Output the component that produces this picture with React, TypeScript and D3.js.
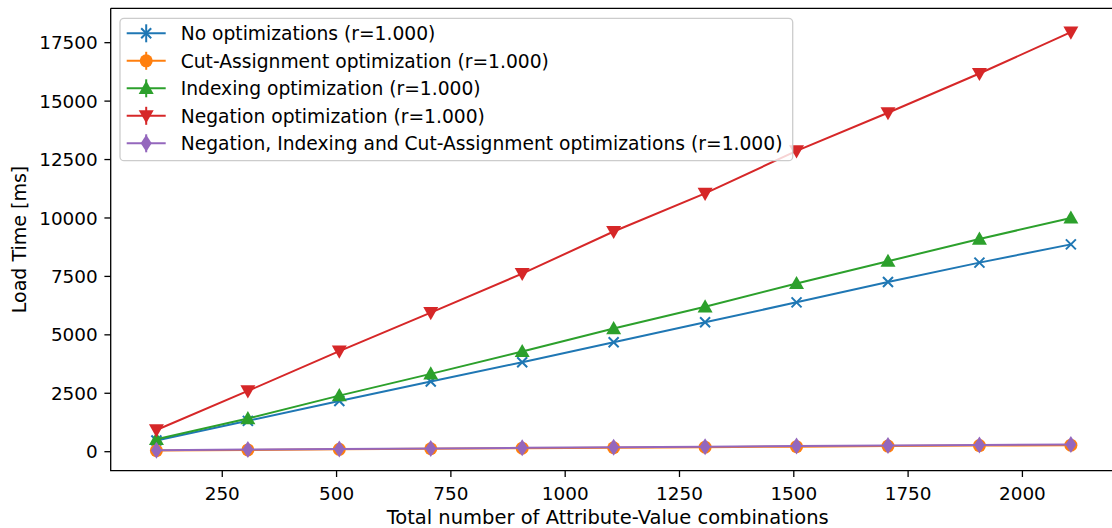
import React from "react";
import * as d3 from "d3";

const combos = [106, 306, 506, 706, 906, 1106, 1306, 1506, 1706, 1906, 2106];
const noOpt = [480, 1320, 2170, 3000, 3830, 4680, 5540, 6390, 7260, 8090, 8870];
const cutAssign = [50, 75, 100, 125, 150, 170, 195, 215, 240, 260, 280];
const indexing = [530, 1420, 2400, 3330, 4290, 5270, 6200, 7200, 8150, 9100, 10000];
const negation = [930, 2600, 4300, 5950, 7620, 9420, 11050, 12870, 14500, 16180, 17950];
const allOpt = [60, 90, 115, 140, 165, 190, 215, 240, 260, 285, 310];

const xTicks = [250, 500, 750, 1000, 1250, 1500, 1750, 2000];
const yTicks = [0, 2500, 5000, 7500, 10000, 12500, 15000, 17500];

const series = [
  { label: "No optimizations (r=1.000)", values: noOpt, color: "#1f77b4", marker: "x" },
  { label: "Cut-Assignment optimization (r=1.000)", values: cutAssign, color: "#ff7f0e", marker: "o" },
  { label: "Indexing optimization (r=1.000)", values: indexing, color: "#2ca02c", marker: "^" },
  { label: "Negation optimization (r=1.000)", values: negation, color: "#d62728", marker: "v" },
  { label: "Negation, Indexing and Cut-Assignment optimizations (r=1.000)", values: allOpt, color: "#9467bd", marker: "d" },
];

const FONT = "DejaVu Sans, sans-serif";

function Marker({ type, x, y, color }: { type: string; x: number; y: number; color: string }) {
  if (type === "x") {
    const s = 5;
    return (
      <path
        d={`M${x - s},${y - s}L${x + s},${y + s}M${x - s},${y + s}L${x + s},${y - s}`}
        stroke={color}
        strokeWidth={2}
        fill="none"
      />
    );
  }
  if (type === "o") return <circle cx={x} cy={y} r={6.5} fill={color} />;
  if (type === "^") {
    const s = 7.5;
    return <path d={`M${x},${y - s}L${x + s},${y + s * 0.75}L${x - s},${y + s * 0.75}Z`} fill={color} />;
  }
  if (type === "v") {
    const s = 7.5;
    return <path d={`M${x},${y + s}L${x + s},${y - s * 0.75}L${x - s},${y - s * 0.75}Z`} fill={color} />;
  }
  // thin diamond
  return <path d={`M${x},${y - 8.5}L${x + 5.5},${y}L${x},${y + 8.5}L${x - 5.5},${y}Z`} fill={color} />;
}

export default function App() {
  const width = 1112;
  const height = 528;
  const left = 110.7;
  const right = 1116.6;
  const top = 8.3;
  const bottom = 470.7;

  const x = d3.scaleLinear().domain([6, 2206]).range([left, right]);
  const y = d3.scaleLinear().domain([-813, 18971]).range([bottom, top]);

  const line = d3
    .line<number>()
    .x((_, i) => x(combos[i]))
    .y((d) => y(d));

  const legendX = 120;
  const legendY = 18.3;
  const rowH = 27.5;

  return (
    <svg
      width={width}
      height={height}
      style={{ position: "absolute", left: 0, top: 0, background: "#fff" }}
      fontFamily={FONT}
    >
      <rect width={width} height={height} fill="#fff" />

      {series.map((s) => (
        <g key={s.label}>
          <path d={line(s.values) || ""} fill="none" stroke={s.color} strokeWidth={2} />
          {s.values.map((v, i) => (
            <Marker key={i} type={s.marker} x={x(combos[i])} y={y(v)} color={s.color} />
          ))}
        </g>
      ))}

      {/* spines */}
      <path d={`M${left},${top}V${bottom}H${right}M${left},${top}H${right}`} stroke="#000" strokeWidth={1.3} fill="none" />

      {yTicks.map((t) => (
        <g key={t} transform={`translate(${left},${y(t)})`}>
          <line x1={-6.3} x2={0} stroke="#000" strokeWidth={1.3} />
          <text x={-13} dy="0.36em" textAnchor="end" fontSize={18.4} fill="#000">
            {t}
          </text>
        </g>
      ))}
      {xTicks.map((t) => (
        <g key={t} transform={`translate(${x(t)},${bottom})`}>
          <line y1={0} y2={6.3} stroke="#000" strokeWidth={1.3} />
          <text y={29} textAnchor="middle" fontSize={18.4} fill="#000">
            {t}
          </text>
        </g>
      ))}

      <text x={(left + right) / 2 - 6} y={524} textAnchor="middle" fontSize={19.5} fill="#000">
        Total number of Attribute-Value combinations
      </text>
      <text
        transform={`translate(26,${(top + bottom) / 2}) rotate(-90)`}
        textAnchor="middle"
        fontSize={19}
        fill="#000"
      >
        Load Time [ms]
      </text>

      {/* legend */}
      <rect
        x={legendX}
        y={legendY}
        width={672.7}
        height={142.4}
        rx={4}
        fill="#fff"
        fillOpacity={0.8}
        stroke="#cccccc"
        strokeWidth={1.3}
      />
      {series.map((s, i) => {
        const cy = 33.3 + i * rowH;
        return (
          <g key={s.label}>
            <line x1={126.7} x2={165.7} y1={cy} y2={cy} stroke={s.color} strokeWidth={2} />
            <line x1={146.2} x2={146.2} y1={cy - 9} y2={cy + 9} stroke={s.color} strokeWidth={2} />
            <Marker type={s.marker} x={146.2} y={cy} color={s.color} />
            <text x={180.7} y={cy} dy="0.36em" fontSize={18.7} fill="#000">
              {s.label}
            </text>
          </g>
        );
      })}
    </svg>
  );
}
